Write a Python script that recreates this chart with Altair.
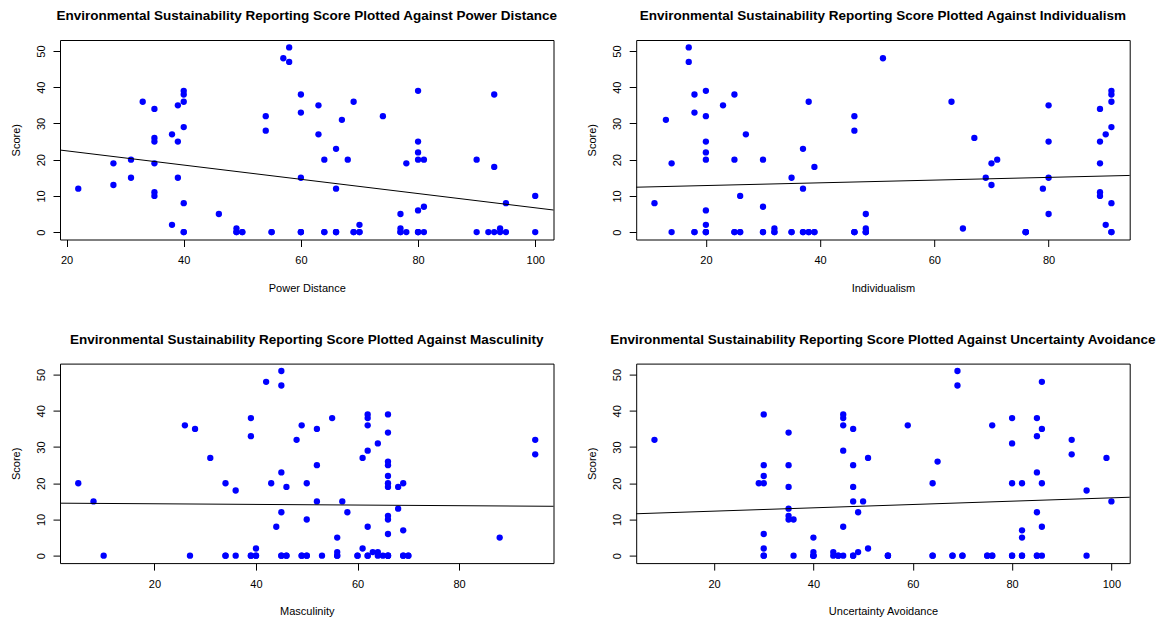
import altair as alt
import pandas as pd

# ---- data ----
pd_x = [22, 28, 28, 31, 31, 33, 35, 35, 35, 35, 35, 35, 38, 38, 39, 39, 39, 40, 40, 40, 40, 40, 40,
        46, 49, 49, 50, 54, 54, 55, 57, 58, 58, 60, 60, 60, 60, 63, 63, 64, 64, 66, 66, 66, 67, 68,
        69, 69, 70, 70, 74, 77, 77, 77, 78, 78, 80, 80, 80, 80, 80, 80, 81, 81, 81, 90, 90, 92, 93,
        93, 93, 94, 94, 95, 95, 100, 100]
pd_y = [12, 19, 13, 20, 15, 36, 34, 26, 25, 19, 11, 10, 27, 2, 35, 25, 15, 39, 38, 36, 29, 8, 0,
        5, 1, 0, 0, 32, 28, 0, 48, 51, 47, 38, 33, 15, 0, 35, 27, 20, 0, 23, 12, 0, 31, 20,
        36, 0, 2, 0, 32, 5, 1, 0, 19, 0, 39, 25, 22, 20, 6, 0, 20, 7, 0, 20, 0, 0, 38,
        18, 0, 1, 0, 8, 0, 10, 0]
# further zero scores hidden under the visible zero points (implied by the fitted line)
pd_zero_x = [40, 49, 50, 55, 60, 60, 64, 66, 66, 69, 70, 77, 80, 80]

idv_x = [11, 13, 14, 14, 17, 17, 18, 18, 18, 20, 20, 20, 20, 20, 20, 20, 20, 23, 25, 25, 25, 26, 26,
         27, 30, 30, 30, 32, 32, 35, 35, 37, 37, 37, 38, 38, 39, 39, 46, 46, 46, 48, 48, 48, 51, 63,
         65, 67, 69, 70, 70, 71, 76, 79, 80, 80, 80, 80, 89, 89, 89, 89, 89, 90, 90, 91, 91, 91, 91,
         91, 91]
idv_y = [8, 31, 19, 0, 51, 47, 38, 33, 0, 39, 32, 25, 22, 20, 6, 2, 0, 35, 38, 20, 0, 10, 0,
         27, 20, 7, 0, 1, 0, 15, 0, 23, 12, 0, 36, 0, 18, 0, 32, 28, 0, 5, 1, 0, 48, 36,
         1, 26, 15, 19, 13, 20, 0, 12, 35, 25, 15, 5, 34, 25, 19, 11, 10, 27, 2, 39, 38, 36, 29,
         8, 0]
idv_zero_x = [18, 20, 20, 25, 26, 30, 32, 35, 37, 38, 39, 46, 46, 48, 48, 76, 76, 76, 91]

mas_x = [5, 8, 10, 26, 27, 28, 31, 34, 34, 36, 36, 39, 39, 39, 40, 40, 42, 43, 44, 45, 45, 45, 45,
         45, 46, 46, 48, 49, 49, 50, 50, 50, 52, 52, 52, 53, 55, 56, 56, 56, 57, 58, 60, 61, 61, 62,
         62, 62, 62, 62, 62, 63, 64, 64, 64, 65, 66, 66, 66, 66, 66, 66, 66, 66, 66, 66, 66, 68, 68,
         69, 69, 69, 70, 88, 95, 95]
mas_y = [20, 15, 0, 36, 0, 35, 27, 20, 0, 18, 0, 38, 33, 0, 2, 0, 48, 20, 8, 51, 47, 23, 12,
         0, 19, 0, 32, 36, 0, 20, 10, 0, 35, 25, 15, 0, 38, 5, 1, 0, 15, 12, 0, 27, 2, 39,
         38, 36, 29, 8, 0, 1, 31, 1, 0, 0, 39, 34, 26, 25, 22, 20, 19, 11, 10, 6, 0, 19, 13,
         20, 7, 0, 0, 5, 32, 28]
mas_zero_x = [34, 39, 40, 45, 46, 49, 50, 56, 60, 62, 66, 66, 69, 70]

uai_x = [8, 29, 30, 30, 30, 30, 30, 30, 30, 35, 35, 35, 35, 35, 35, 36, 36, 40, 40, 40, 44, 44, 45,
         46, 46, 46, 46, 46, 46, 48, 48, 48, 48, 48, 49, 49, 50, 51, 51, 55, 59, 64, 64, 65, 68, 69,
         69, 70, 75, 76, 76, 80, 80, 80, 80, 82, 82, 82, 82, 85, 85, 85, 85, 85, 86, 86, 86, 86, 86,
         92, 92, 95, 95, 99, 100]
uai_y = [32, 20, 39, 25, 22, 20, 6, 2, 0, 34, 25, 19, 13, 11, 10, 10, 0, 5, 1, 0, 1, 0, 0,
         39, 38, 36, 29, 8, 0, 35, 25, 19, 15, 0, 12, 1, 15, 27, 2, 0, 36, 20, 0, 26, 0, 51,
         47, 0, 0, 36, 0, 38, 31, 20, 0, 20, 7, 5, 0, 38, 33, 23, 12, 0, 48, 35, 20, 8, 0,
         32, 28, 18, 0, 27, 15]
uai_zero_x = [30, 40, 40, 45, 48, 55, 55, 64, 68, 70, 75, 76, 80, 82, 85]

x_titles = ["Power Distance", "Individualism", "Masculinity", "Uncertainty Avoidance"]
title_prefix = "Environmental Sustainability Reporting Score Plotted Against "
y_title = "Score)"
x_tick_values = [0, 20, 40, 60, 80, 100]
y_tick_values = [0, 10, 20, 30, 40, 50]

FONT = "Liberation Sans"
W, H = 493.5, 199.5


def expand(vals):
    lo, hi = min(vals), max(vals)
    r = hi - lo
    return [lo - 0.04 * r, hi + 0.04 * r]


def panel(xs, ys, zero_xs, xlabel):
    all_x = list(xs) + list(zero_xs)
    all_y = list(ys) + [0] * len(zero_xs)
    df = pd.DataFrame({"x": all_x, "y": all_y})
    xd = expand(all_x)
    yd = expand(all_y)
    xvals = [v for v in x_tick_values if xd[0] <= v <= xd[1]]
    xaxis = alt.Axis(values=xvals, title=xlabel, grid=False, domain=False,
                     tickSize=7, tickColor="black", tickWidth=1,
                     labelFont=FONT, labelFontSize=11, labelColor="black",
                     labelBaseline="alphabetic", labelPadding=17,
                     labelFlush=False, labelOverlap=False,
                     titleFont=FONT, titleFontSize=11, titleFontWeight="normal",
                     titleColor="black", titleBaseline="alphabetic", titleY=51.6)
    yaxis = alt.Axis(values=y_tick_values, title=y_title, grid=False, domain=False,
                     tickSize=7, tickColor="black", tickWidth=1,
                     labelFont=FONT, labelFontSize=11, labelColor="black",
                     labelAngle=270, labelAlign="center", labelBaseline="alphabetic",
                     labelPadding=9, labelFlush=False, labelOverlap=False,
                     titleFont=FONT, titleFontSize=11, titleFontWeight="normal",
                     titleColor="black", titleAngle=270, titleBaseline="alphabetic",
                     titleAlign="center", titleX=-41, titleY=H / 2)
    base = alt.Chart(df).encode(
        x=alt.X("x:Q", scale=alt.Scale(domain=xd, nice=False, zero=False), axis=xaxis),
        y=alt.Y("y:Q", scale=alt.Scale(domain=yd, nice=False, zero=False), axis=yaxis),
    )
    pts = base.mark_point(filled=True, shape="circle", size=40, color="#0000FF", opacity=1)
    line = base.transform_regression("x", "y", extent=xd).mark_line(color="black", strokeWidth=1)
    return alt.layer(pts, line).properties(
        width=W, height=H,
        title=alt.TitleParams(title_prefix + xlabel, font=FONT, fontSize=13.5, fontWeight="bold",
                              color="black", anchor="middle", frame="group",
                              baseline="alphabetic", offset=6.6),
    )


p1 = panel(pd_x, pd_y, pd_zero_x, x_titles[0])
p2 = panel(idv_x, idv_y, idv_zero_x, x_titles[1])
p3 = panel(mas_x, mas_y, mas_zero_x, x_titles[2])
p4 = panel(uai_x, uai_y, uai_zero_x, x_titles[3])

chart = alt.concat(
    p1, p2, p3, p4, columns=2,
    spacing={"row": 123.6, "column": 82.2}, bounds="flush",
).properties(
    padding={"left": 9, "top": 8, "right": 2, "bottom": 0},
    background="white",
).configure_view(stroke="black", strokeWidth=1)

chart.save("out.html", embed_options={"renderer": "svg", "actions": False})
